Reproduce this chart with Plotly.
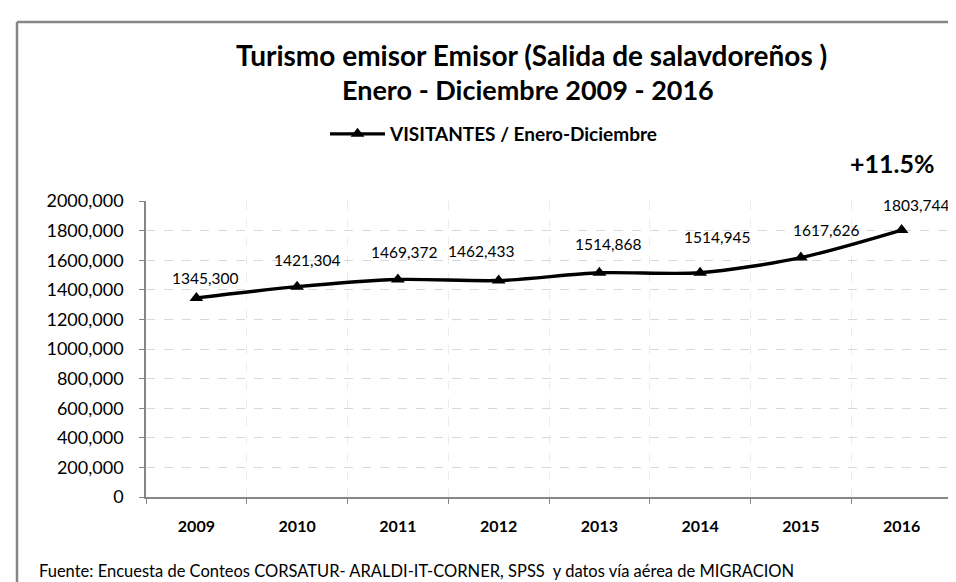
import plotly.graph_objects as go

# datos
years = ["2009", "2010", "2011", "2012", "2013", "2014", "2015", "2016"]
visitantes = [1345300, 1421304, 1469372, 1462433, 1514868, 1514945, 1617626, 1803744]
y_ticks = [0, 200000, 400000, 600000, 800000, 1000000, 1200000, 1400000, 1600000, 1800000, 2000000]

# desplazamiento de las etiquetas (px) tal como estan en el grafico original
lbl_dx = [9, 10, 6, -18, 9, 17, 25, 14]
lbl_dy = [20, 27, 28, 30, 29, 36, 28, 25]


def fmt(v):
    # formato tipo "1345,300"
    if v < 1000:
        return str(v)
    return f"{v // 1000},{v % 1000:03d}"


FONT = "Lato"
W, H = 956, 582
L, R, T, B = 138, 12, 193, 93
pw, ph = W - L - R, H - T - B


def px(x):
    return (x - L) / pw


def py(y):
    return (H - B - y) / ph


xpos = list(range(len(years)))

fig = go.Figure()
fig.add_trace(go.Scatter(
    x=xpos, y=visitantes, mode="lines+markers",
    name="VISITANTES / Enero-Diciembre",
    line=dict(color="black", width=3.4, shape="spline", smoothing=0.8),
    marker=dict(symbol="triangle-up", size=12, color="black"),
    hoverinfo="skip",
))

annotations = []
for xi, v, dx, dy in zip(xpos, visitantes, lbl_dx, lbl_dy):
    annotations.append(dict(x=xi, y=v, xref="x", yref="y", text=fmt(v), showarrow=False,
                            xanchor="center", yanchor="middle",
                            xshift=dx, yshift=dy, font=dict(family=FONT, size=15.5, color="black")))

annotations += [
    dict(x=px(523), y=py(47), xref="paper", yref="paper", showarrow=False,
         xanchor="center", yanchor="middle",
         text="Turismo emisor Emisor (Salida de salavdoreños )",
         font=dict(family=FONT, size=28, color="black", weight="bold")),
    dict(x=px(520), y=py(81), xref="paper", yref="paper", showarrow=False,
         xanchor="center", yanchor="middle",
         text="Enero - Diciembre 2009 - 2016",
         font=dict(family=FONT, size=27, color="black", weight="bold")),
    dict(x=px(884), y=py(155), xref="paper", yref="paper", showarrow=False,
         xanchor="center", yanchor="middle",
         text="+11.5%", font=dict(family=FONT, size=25, color="black", weight="bold")),
    dict(x=px(29), y=py(563), xref="paper", yref="paper", showarrow=False,
         xanchor="left", yanchor="middle",
         text="Fuente: Encuesta de Conteos CORSATUR- ARALDI-IT-CORNER, SPSS  y datos vía aérea de MIGRACION",
         font=dict(family=FONT, size=16.5, color="black")),
]

fig.update_layout(
    width=W, height=H,
    margin=dict(l=L, r=R, t=T, b=B),
    paper_bgcolor="white", plot_bgcolor="white",
    annotations=annotations,
    showlegend=True,
    legend=dict(orientation="h", x=px(486), y=py(126), xanchor="center", yanchor="middle",
                itemwidth=55, font=dict(family=FONT, size=19, color="black", weight="bold"),
                bgcolor="rgba(0,0,0,0)"),
    shapes=[
        dict(type="line", xref="paper", yref="paper", x0=px(9), x1=px(990), y0=py(14), y1=py(14),
             line=dict(color="#868686", width=2.5)),
        dict(type="line", xref="paper", yref="paper", x0=px(9), x1=px(9), y0=py(14), y1=py(620),
             line=dict(color="#868686", width=2.5)),
    ],
)

fig.update_xaxes(
    range=[-0.5, len(years) - 0.5],
    tickvals=xpos, ticktext=years, ticks="",
    showline=True, linecolor="#868686", linewidth=1.5,
    showgrid=False, zeroline=False,
    minor=dict(tick0=-0.5, dtick=1, ticks="outside", ticklen=5, tickcolor="#868686",
               showgrid=True, gridcolor="#ececec", griddash="dash", gridwidth=1),
    tickfont=dict(family=FONT, size=16, color="black", weight="bold"),
    ticklabelstandoff=14,
)
fig.update_yaxes(
    range=[0, 2000000], tickvals=y_ticks, ticktext=[fmt(v) for v in y_ticks],
    ticks="outside", ticklen=5, tickcolor="#868686",
    showline=True, linecolor="#868686", linewidth=1.5,
    showgrid=True, gridcolor="#d9d9d9", griddash="dash", gridwidth=1.3,
    zeroline=False,
    tickfont=dict(family=FONT, size=18, color="black"),
    ticklabelstandoff=12,
)

fig.write_html("out.html")
